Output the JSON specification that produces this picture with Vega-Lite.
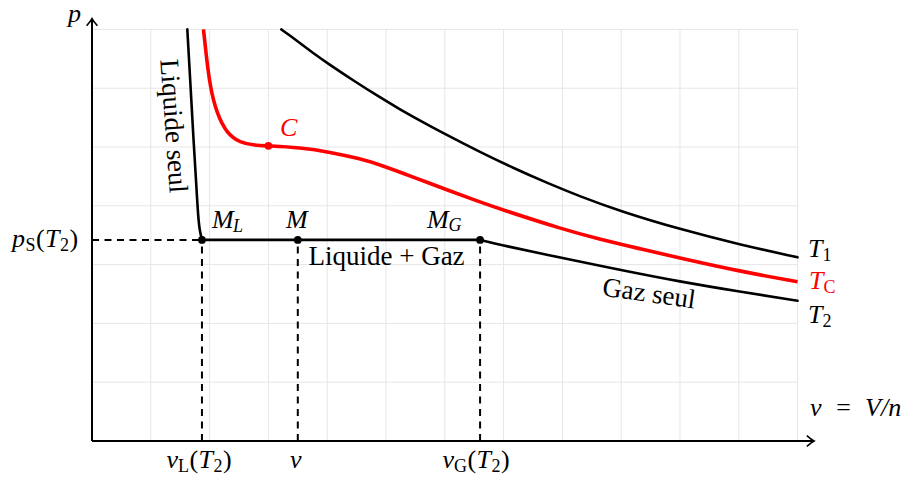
{
  "$schema": "https://vega.github.io/schema/vega-lite/v6.json",
  "width": 723,
  "height": 424,
  "autosize": {"type": "none"},
  "padding": {"left": 92, "top": 17, "right": 91, "bottom": 40},
  "background": "white",
  "config": {"view": {"stroke": null}, "font": "Liberation Serif, Times New Roman, DejaVu Serif, serif"},
  "datasets": {
    "grid": [
      {"v": 1, "v2": 1, "p": 0, "p2": 7}, {"v": 2, "v2": 2, "p": 0, "p2": 7}, {"v": 3, "v2": 3, "p": 0, "p2": 7},
      {"v": 4, "v2": 4, "p": 0, "p2": 7}, {"v": 5, "v2": 5, "p": 0, "p2": 7}, {"v": 6, "v2": 6, "p": 0, "p2": 7},
      {"v": 7, "v2": 7, "p": 0, "p2": 7}, {"v": 8, "v2": 8, "p": 0, "p2": 7}, {"v": 9, "v2": 9, "p": 0, "p2": 7},
      {"v": 10, "v2": 10, "p": 0, "p2": 7}, {"v": 11, "v2": 11, "p": 0, "p2": 7}, {"v": 12, "v2": 12, "p": 0, "p2": 7},
      {"v": 0, "v2": 12, "p": 1, "p2": 1}, {"v": 0, "v2": 12, "p": 2, "p2": 2}, {"v": 0, "v2": 12, "p": 3, "p2": 3},
      {"v": 0, "v2": 12, "p": 4, "p2": 4}, {"v": 0, "v2": 12, "p": 5, "p2": 5}, {"v": 0, "v2": 12, "p": 6, "p2": 6},
      {"v": 0, "v2": 12, "p": 7, "p2": 7}
    ],
    "dash": [
      {"v": 0, "v2": 1.87, "p": 3.42, "p2": 3.42},
      {"v": 1.87, "v2": 1.87, "p": 0, "p2": 3.42},
      {"v": 3.5, "v2": 3.5, "p": 0, "p2": 3.42},
      {"v": 6.6, "v2": 6.6, "p": 0, "p2": 3.42}
    ],
    "axes": [
      {"ax": "x", "v": 0, "v2": 12.26, "p": 0, "p2": 0, "tv": 12.28, "tp": 0},
      {"ax": "y", "v": 0, "v2": 0, "p": 0, "p2": 7.165, "tv": 0, "tp": 7.185}
    ],
    "curves": [
      {"seg": "T1", "i": 0, "v": 3.22, "p": 7.0}, {"seg": "T1", "i": 1, "v": 3.367, "p": 6.895},
      {"seg": "T1", "i": 2, "v": 3.537, "p": 6.765}, {"seg": "T1", "i": 3, "v": 3.759, "p": 6.6},
      {"seg": "T1", "i": 4, "v": 3.997, "p": 6.43}, {"seg": "T1", "i": 5, "v": 4.507, "p": 6.09},
      {"seg": "T1", "i": 6, "v": 4.898, "p": 5.845}, {"seg": "T1", "i": 7, "v": 5.238, "p": 5.64},
      {"seg": "T1", "i": 8, "v": 5.459, "p": 5.515}, {"seg": "T1", "i": 9, "v": 6.037, "p": 5.2},
      {"seg": "T1", "i": 10, "v": 6.599, "p": 4.915}, {"seg": "T1", "i": 11, "v": 7.16, "p": 4.645},
      {"seg": "T1", "i": 12, "v": 7.738, "p": 4.39}, {"seg": "T1", "i": 13, "v": 8.299, "p": 4.16},
      {"seg": "T1", "i": 14, "v": 8.98, "p": 3.91}, {"seg": "T1", "i": 15, "v": 10.0, "p": 3.6},
      {"seg": "T1", "i": 16, "v": 11.02, "p": 3.34}, {"seg": "T1", "i": 17, "v": 12.0, "p": 3.124},
      {"seg": "Tc", "i": 0, "v": 1.896, "p": 7.0}, {"seg": "Tc", "i": 1, "v": 1.939, "p": 6.594},
      {"seg": "Tc", "i": 2, "v": 2.007, "p": 6.026}, {"seg": "Tc", "i": 3, "v": 2.121, "p": 5.573},
      {"seg": "Tc", "i": 4, "v": 2.291, "p": 5.233}, {"seg": "Tc", "i": 5, "v": 2.517, "p": 5.073},
      {"seg": "Tc", "i": 6, "v": 2.772, "p": 5.026}, {"seg": "Tc", "i": 7, "v": 3.0, "p": 5.02},
      {"seg": "Tc", "i": 8, "v": 3.537, "p": 4.99}, {"seg": "Tc", "i": 9, "v": 4.048, "p": 4.915},
      {"seg": "Tc", "i": 10, "v": 4.558, "p": 4.8}, {"seg": "Tc", "i": 11, "v": 4.898, "p": 4.7},
      {"seg": "Tc", "i": 12, "v": 5.459, "p": 4.49}, {"seg": "Tc", "i": 13, "v": 6.037, "p": 4.27},
      {"seg": "Tc", "i": 14, "v": 6.599, "p": 4.065}, {"seg": "Tc", "i": 15, "v": 6.939, "p": 3.945},
      {"seg": "Tc", "i": 16, "v": 8.01, "p": 3.6}, {"seg": "Tc", "i": 17, "v": 8.639, "p": 3.43},
      {"seg": "Tc", "i": 18, "v": 9.32, "p": 3.27}, {"seg": "Tc", "i": 19, "v": 10.0, "p": 3.11},
      {"seg": "Tc", "i": 20, "v": 11.02, "p": 2.885}, {"seg": "Tc", "i": 21, "v": 12.0, "p": 2.709},
      {"seg": "T2L", "i": 0, "v": 1.621, "p": 7.0}, {"seg": "T2L", "i": 1, "v": 1.675, "p": 6.054},
      {"seg": "T2L", "i": 2, "v": 1.723, "p": 5.175}, {"seg": "T2L", "i": 3, "v": 1.769, "p": 4.439},
      {"seg": "T2L", "i": 4, "v": 1.808, "p": 3.759}, {"seg": "T2L", "i": 5, "v": 1.837, "p": 3.554},
      {"seg": "T2L", "i": 6, "v": 1.87, "p": 3.42},
      {"seg": "T2P", "i": 0, "v": 1.87, "p": 3.42}, {"seg": "T2P", "i": 1, "v": 6.6, "p": 3.42},
      {"seg": "T2G", "i": 0, "v": 6.6, "p": 3.42}, {"seg": "T2G", "i": 1, "v": 6.939, "p": 3.335},
      {"seg": "T2G", "i": 2, "v": 8.18, "p": 3.075}, {"seg": "T2G", "i": 3, "v": 8.98, "p": 2.91},
      {"seg": "T2G", "i": 4, "v": 10.0, "p": 2.71}, {"seg": "T2G", "i": 5, "v": 11.02, "p": 2.539},
      {"seg": "T2G", "i": 6, "v": 12.0, "p": 2.386}
    ],
    "pts": [
      {"name": "ML", "v": 1.87, "p": 3.42, "g": "n"},
      {"name": "M", "v": 3.5, "p": 3.42, "g": "n"},
      {"name": "MG", "v": 6.6, "p": 3.42, "g": "n"},
      {"name": "C", "v": 3.0, "p": 5.02, "g": "crit"}
    ],
    "mathBig": [
      {"t": "p", "v": -0.408, "p": 7.126, "g": "n"},
      {"t": "p", "v": -1.361, "p": 3.299, "g": "n"},
      {"t": "T", "v": -0.799, "p": 3.299, "g": "n"},
      {"t": "M", "v": 2.041, "p": 3.622, "g": "n"},
      {"t": "M", "v": 3.299, "p": 3.622, "g": "n"},
      {"t": "M", "v": 5.697, "p": 3.622, "g": "n"},
      {"t": "C", "v": 3.197, "p": 5.187, "g": "crit"},
      {"t": "T", "v": 12.177, "p": 3.129, "g": "n"},
      {"t": "T", "v": 12.194, "p": 2.585, "g": "crit"},
      {"t": "T", "v": 12.177, "p": 2.007, "g": "n"},
      {"t": "v\u2002=\u2002V/n", "v": 12.211, "p": 0.43, "g": "n"},
      {"t": "v", "v": 1.267, "p": -0.459, "g": "n"},
      {"t": "T", "v": 1.811, "p": -0.459, "g": "n"},
      {"t": "v", "v": 3.367, "p": -0.459, "g": "n"},
      {"t": "v", "v": 5.961, "p": -0.459, "g": "n"},
      {"t": "T", "v": 6.539, "p": -0.459, "g": "n"}
    ],
    "paren": [
      {"t": "(", "v": -0.952, "p": 3.299}, {"t": ")", "v": -0.383, "p": 3.299},
      {"t": "(", "v": 1.658, "p": -0.459}, {"t": ")", "v": 2.228, "p": -0.459},
      {"t": "(", "v": 6.386, "p": -0.459}, {"t": ")", "v": 6.956, "p": -0.459}
    ],
    "subRoman": [
      {"t": "S", "v": -1.131, "p": 3.231, "g": "n"}, {"t": "2", "v": -0.544, "p": 3.231, "g": "n"},
      {"t": "L", "v": 1.463, "p": -0.527, "g": "n"}, {"t": "2", "v": 2.066, "p": -0.527, "g": "n"},
      {"t": "G", "v": 6.156, "p": -0.527, "g": "n"}, {"t": "2", "v": 6.794, "p": -0.527, "g": "n"},
      {"t": "1", "v": 12.423, "p": 3.061, "g": "n"}, {"t": "C", "v": 12.44, "p": 2.517, "g": "crit"},
      {"t": "2", "v": 12.423, "p": 1.939, "g": "n"}
    ],
    "subItalic": [
      {"t": "L", "v": 2.398, "p": 3.554}, {"t": "G", "v": 6.063, "p": 3.571}
    ]
  },
  "encoding": {
    "x": {"field": "v", "type": "quantitative", "scale": {"domain": [0, 12.296], "nice": false, "zero": false}, "axis": null},
    "y": {"field": "p", "type": "quantitative", "scale": {"domain": [0, 7.211], "nice": false, "zero": false}, "axis": null}
  },
  "layer": [
    {
      "data": {"name": "grid"},
      "mark": {"type": "rule", "color": "#e6e6e6", "strokeWidth": 1},
      "encoding": {"x2": {"field": "v2"}, "y2": {"field": "p2"}}
    },
    {
      "data": {"name": "dash"},
      "mark": {"type": "rule", "color": "black", "strokeWidth": 2, "strokeDash": [7, 5.5]},
      "encoding": {"x2": {"field": "v2"}, "y2": {"field": "p2"}}
    },
    {
      "data": {"name": "curves"},
      "transform": [{"filter": "datum.seg != 'Tc'"}],
      "mark": {"type": "line", "color": "black", "strokeWidth": 2.6, "interpolate": "basis", "strokeCap": "round"},
      "encoding": {"detail": {"field": "seg"}, "order": {"field": "i", "type": "quantitative"}}
    },
    {
      "data": {"name": "curves"},
      "transform": [{"filter": "datum.seg == 'Tc'"}],
      "mark": {"type": "line", "color": "#ff0000", "strokeWidth": 3.6, "interpolate": "basis"},
      "encoding": {"order": {"field": "i", "type": "quantitative"}}
    },
    {
      "data": {"name": "axes"},
      "mark": {"type": "rule", "color": "black", "strokeWidth": 2},
      "encoding": {"x2": {"field": "v2"}, "y2": {"field": "p2"}}
    },
    {
      "data": {"name": "axes"},
      "mark": {"type": "point", "filled": false, "stroke": "black", "strokeWidth": 1.6, "size": 81, "opacity": 1},
      "encoding": {
        "x": {"field": "tv", "type": "quantitative"},
        "y": {"field": "tp", "type": "quantitative"},
        "shape": {"field": "ax", "type": "nominal", "legend": null,
          "scale": {"domain": ["x", "y"], "range": ["M -1.6 -1.2 Q -0.6 -0.3 0 0 Q -0.6 0.3 -1.6 1.2", "M -1.2 1.6 Q -0.3 0.6 0 0 Q 0.3 0.6 1.2 1.6"]}}
      }
    },
    {
      "data": {"name": "pts"},
      "mark": {"type": "point", "filled": true, "size": 60, "opacity": 1},
      "encoding": {
        "color": {"field": "g", "type": "nominal", "legend": null, "scale": {"domain": ["n", "crit"], "range": ["#000000", "#ff0000"]}}
      }
    },
    {
      "data": {"name": "mathBig"},
      "mark": {"type": "text", "font": "Liberation Serif, Times New Roman, DejaVu Serif, serif", "fontStyle": "italic", "fontSize": 26, "align": "left", "baseline": "alphabetic"},
      "encoding": {
        "text": {"field": "t"},
        "color": {"field": "g", "type": "nominal", "legend": null, "scale": {"domain": ["n", "crit"], "range": ["#000000", "#ff0000"]}}
      }
    },
    {
      "data": {"name": "paren"},
      "mark": {"type": "text", "font": "Liberation Serif, Times New Roman, DejaVu Serif, serif", "fontSize": 26, "align": "left", "baseline": "alphabetic", "color": "black"},
      "encoding": {"text": {"field": "t"}}
    },
    {
      "data": {"name": "subRoman"},
      "mark": {"type": "text", "font": "Liberation Serif, Times New Roman, DejaVu Serif, serif", "fontSize": 18, "align": "left", "baseline": "alphabetic"},
      "encoding": {
        "text": {"field": "t"},
        "color": {"field": "g", "type": "nominal", "legend": null, "scale": {"domain": ["n", "crit"], "range": ["#000000", "#ff0000"]}}
      }
    },
    {
      "data": {"name": "subItalic"},
      "mark": {"type": "text", "font": "Liberation Serif, Times New Roman, DejaVu Serif, serif", "fontStyle": "italic", "fontSize": 18, "align": "left", "baseline": "alphabetic", "color": "black"},
      "encoding": {"text": {"field": "t"}}
    },
    {
      "data": {"values": [{"t": "Liquide + Gaz", "v": 5.009, "p": 2.993}]},
      "mark": {"type": "text", "font": "Liberation Serif, Times New Roman, DejaVu Serif, serif", "fontSize": 27, "align": "center", "baseline": "alphabetic", "color": "black"},
      "encoding": {"text": {"field": "t"}}
    },
    {
      "data": {"values": [{"t": "Liquide seul", "v": 1.378, "p": 5.357}]},
      "mark": {"type": "text", "font": "Liberation Serif, Times New Roman, DejaVu Serif, serif", "fontSize": 27, "align": "center", "baseline": "middle", "angle": 86, "color": "black"},
      "encoding": {"text": {"field": "t"}}
    },
    {
      "data": {"values": [{"t": "Gaz seul", "v": 9.473, "p": 2.5}]},
      "mark": {"type": "text", "font": "Liberation Serif, Times New Roman, DejaVu Serif, serif", "fontSize": 27, "align": "center", "baseline": "middle", "angle": 8, "color": "black"},
      "encoding": {"text": {"field": "t"}}
    }
  ]
}
